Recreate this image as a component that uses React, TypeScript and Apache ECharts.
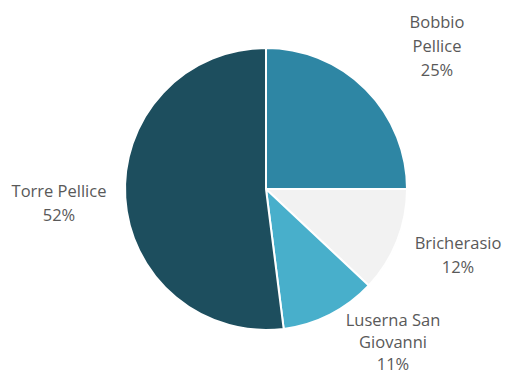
import React, { useEffect, useRef } from "react";
import * as echarts from "echarts";

const categories = ["Bobbio Pellice", "Bricherasio", "Luserna San Giovanni", "Torre Pellice"];
const values = [25, 12, 11, 52];
const labelTexts = ["Bobbio\nPellice\n25%", "Bricherasio\n12%", "Luserna San\nGiovanni\n11%", "Torre Pellice\n52%"];
const colors = ["#2E86A4", "#F2F2F2", "#48AFCB", "#1D4E5E"];
const labelPos = [
  [437, 45],
  [458, 254],
  [393, 341],
  [59, 202],
];
const labelLineHeights = [24, 24, 22, 24];

export default function App() {
  const ref = useRef<HTMLDivElement>(null);
  useEffect(() => {
    if (!ref.current) return;
    const chart = echarts.init(ref.current, undefined, { renderer: "svg" });
    chart.setOption({
      animation: false,
      backgroundColor: "#ffffff",
      series: [
        {
          type: "pie",
          center: [266, 189],
          radius: [0, 141],
          startAngle: 90,
          clockwise: true,
          data: categories.map((name, i) => ({
            name,
            value: values[i],
            itemStyle: { color: colors[i] },
            label: { formatter: labelTexts[i], lineHeight: labelLineHeights[i] },
          })),
          itemStyle: { borderColor: "#ffffff", borderWidth: 2 },
          label: {
            show: true,
            position: "outside",
            color: "#595959",
            fontFamily: "Open Sans",
            fontSize: 16.5,
            lineHeight: 24,
            align: "center",
            overflow: "none",
            width: 200,
          },
          labelLine: { show: false },
          labelLayout: (params: any) => {
            const p = labelPos[params.dataIndex];
            return {
              x: p[0],
              y: p[1],
              align: "center",
              verticalAlign: "middle",
            };
          },
        },
      ],
    });
    return () => chart.dispose();
  }, []);
  return (
    <div
      ref={ref}
      style={{ position: "fixed", left: 0, top: 0, width: 505, height: 374 }}
    />
  );
}
